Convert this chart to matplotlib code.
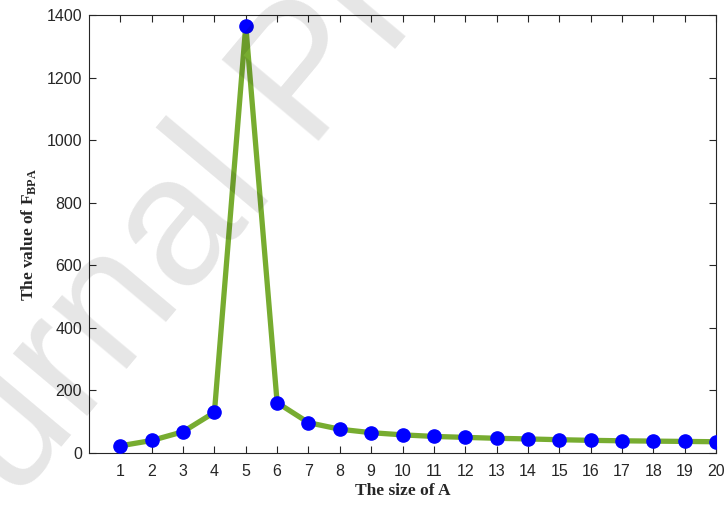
import numpy as np
import matplotlib
matplotlib.use("Agg")
import matplotlib.pyplot as plt

# data
sizes = list(range(1, 21))
f_bpa = [23, 40, 68, 130, 1366, 161, 97, 76, 65, 58,
         53, 50, 47, 45, 42.5, 40.5, 39, 38, 37, 36]
x_ticks = list(range(1, 21))
y_ticks = [0, 200, 400, 600, 800, 1000, 1200, 1400]

# matlab-ish look
plt.rcParams['font.family'] = ['Liberation Sans', 'DejaVu Sans']
plt.rcParams['mathtext.fontset'] = 'custom'
plt.rcParams['mathtext.rm'] = 'Liberation Serif:bold'
plt.rcParams['mathtext.bf'] = 'Liberation Serif:bold'
axis_col = '#262626'

fig = plt.figure(figsize=(7.28, 5.07), dpi=100)
ax = fig.add_axes([0.1223, 0.1065, 0.8612, 0.8639])

# curve
ax.plot(sizes, f_bpa, color='#77AC30', linewidth=3.8, zorder=2)
ax.plot(sizes, f_bpa, linestyle='none', marker='o', markersize=9.5,
        markerfacecolor='#0000FF', markeredgecolor='#0000FF', zorder=3)

ax.set_xlim(0, 20)
ax.set_ylim(0, 1400)
ax.set_xticks(x_ticks)
ax.set_yticks(y_ticks)

ax.tick_params(direction='in', length=5, width=0.8, colors=axis_col,
               labelsize=11.5, top=True, right=True)
ax.tick_params(axis='x', pad=8)
ax.tick_params(axis='y', pad=5)
for sp in ax.spines.values():
    sp.set_color(axis_col)
    sp.set_linewidth(0.8)

ax.set_xlabel('The size of A', fontfamily='Liberation Serif',
              fontweight='bold', fontsize=12.5, color=axis_col, labelpad=3)
ax.set_ylabel(r'The value of F$_{\mathrm{BPA}}$', fontfamily='Liberation Serif',
              fontweight='bold', fontsize=12.5, color=axis_col, labelpad=6)

# watermark of the pre-proof, anchored at start of the string (off canvas)
fig.text(-0.151, -0.286, 'Journal Pre-proof', fontsize=132, rotation=50,
         rotation_mode='anchor', ha='left', va='baseline',
         color='black', alpha=0.1, zorder=10)

fig.savefig('out.png', dpi=100)
